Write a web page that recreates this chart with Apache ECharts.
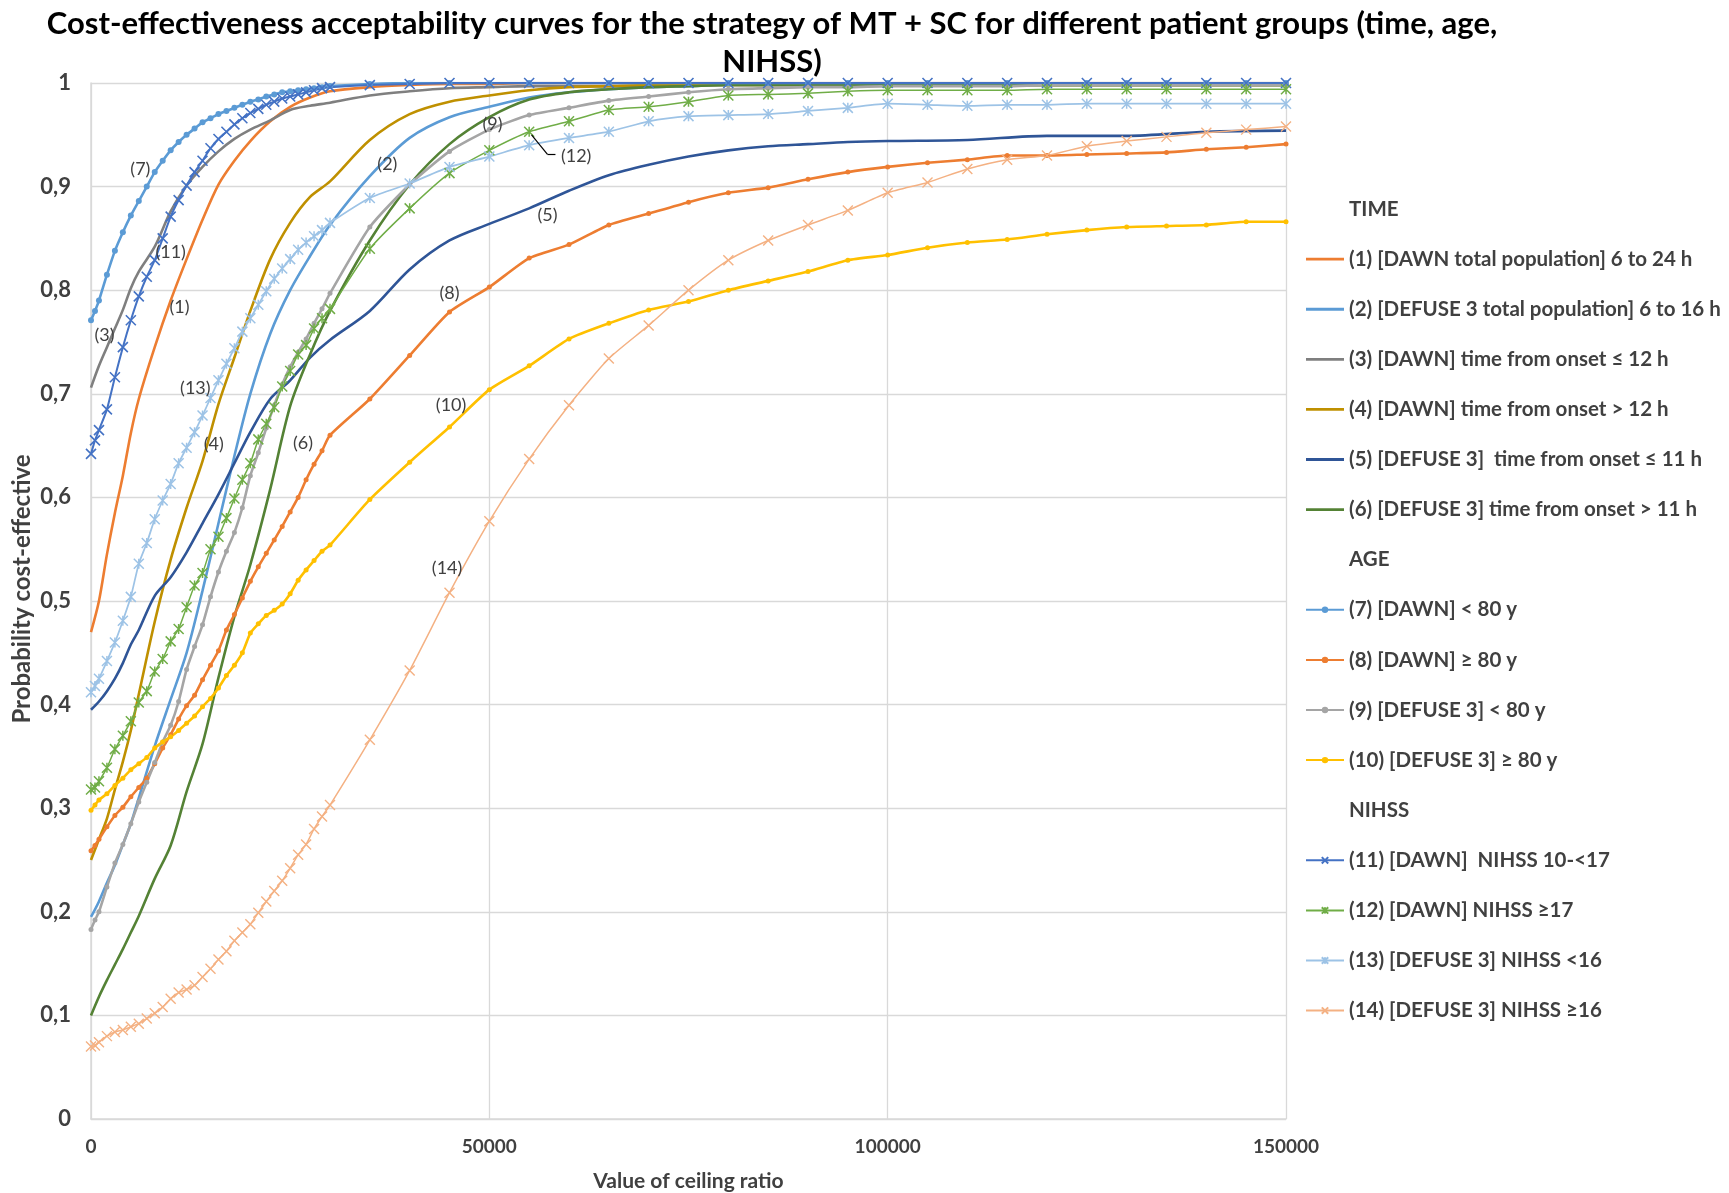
<!DOCTYPE html>
<html>
<head>
<meta charset="utf-8">
<title>CEAC MT + SC</title>
<script src="https://cdn.jsdelivr.net/npm/echarts/dist/echarts.min.js"></script>
<style>
  html, body { margin: 0; padding: 0; background: #fff; }
  #chart { width: 1729px; height: 1193px; }
</style>
</head>
<body>
<div id="chart"></div>
<script>
// sampling grids (ceiling ratio)
const xMark = [0, 500, 1000, 2000, 3000, 4000, 5000, 6000, 7000, 8000, 9000, 10000, 11000, 12000, 13000, 14000, 15000,
  16000, 17000, 18000, 19000, 20000, 21000, 22000, 23000, 24000, 25000, 26000, 27000, 28000, 29000, 30000,
  35000, 40000, 45000, 50000, 55000, 60000, 65000, 70000, 75000, 80000, 85000, 90000, 95000, 100000,
  105000, 110000, 115000, 120000, 125000, 130000, 135000, 140000, 145000, 150000]
const xLine = [0, 1000, 2000, 3000, 4000, 5000, 6000, 8000, 10000, 12000, 14000, 16000, 18000, 20000, 22500, 25000, 27500, 30000,
  35000, 40000, 45000, 50000, 55000, 60000, 65000, 70000, 75000, 80000, 85000, 90000, 95000, 100000, 110000, 120000, 130000, 140000, 150000]

// TIME (plain lines, on xLine)
const s1 = [0.47, 0.5, 0.545, 0.585, 0.621, 0.662, 0.695, 0.745, 0.79, 0.83, 0.868, 0.902, 0.925, 0.944, 0.963, 0.977, 0.986, 0.992,
  0.996, 0.998, 0.999, 0.999, 1, 1, 1, 1, 1, 1, 1, 1, 1, 1, 1, 1, 1, 1, 1]
const s2 = [0.195, 0.21, 0.228, 0.245, 0.265, 0.285, 0.31, 0.36, 0.405, 0.45, 0.51, 0.575, 0.64, 0.7, 0.758, 0.8, 0.833, 0.863,
  0.91, 0.947, 0.967, 0.977, 0.986, 0.991, 0.994, 0.996, 0.997, 0.998, 0.998, 0.998, 0.998, 0.998, 0.998, 0.998, 0.998, 0.998, 0.998]
const s3 = [0.706, 0.727, 0.745, 0.763, 0.781, 0.802, 0.818, 0.842, 0.876, 0.901, 0.919, 0.934, 0.946, 0.955, 0.964, 0.974, 0.978, 0.981,
  0.988, 0.992, 0.995, 0.996, 0.997, 0.997, 0.997, 0.997, 0.998, 0.998, 0.998, 0.998, 0.998, 0.998, 0.998, 0.998, 0.998, 0.998, 0.998]
const s4 = [0.25, 0.27, 0.29, 0.318, 0.345, 0.375, 0.41, 0.48, 0.54, 0.59, 0.635, 0.69, 0.735, 0.78, 0.83, 0.865, 0.89, 0.905,
  0.945, 0.97, 0.982, 0.988, 0.993, 0.996, 0.997, 0.998, 0.998, 0.998, 0.998, 0.998, 0.998, 0.998, 0.998, 0.998, 0.998, 0.998, 0.998]
const s5 = [0.395, 0.403, 0.413, 0.425, 0.44, 0.458, 0.472, 0.505, 0.523, 0.547, 0.575, 0.603, 0.633, 0.663, 0.695, 0.713, 0.735, 0.752,
  0.78, 0.82, 0.848, 0.864, 0.879, 0.896, 0.911, 0.921, 0.929, 0.935, 0.939, 0.941, 0.943, 0.944, 0.945, 0.949, 0.949, 0.953, 0.954]
const s6 = [0.1, 0.118, 0.134, 0.149, 0.164, 0.18, 0.196, 0.232, 0.264, 0.316, 0.362, 0.426, 0.485, 0.535, 0.608, 0.688, 0.738, 0.78,
  0.848, 0.902, 0.941, 0.967, 0.984, 0.991, 0.994, 0.996, 0.997, 0.998, 0.998, 0.998, 0.998, 0.998, 0.998, 0.998, 0.998, 0.998, 0.998]

// AGE (dot markers, on xMark)
const s7 = [0.771, 0.78, 0.79, 0.815, 0.838, 0.856, 0.872, 0.886, 0.9, 0.914, 0.925, 0.935, 0.943, 0.95, 0.956, 0.962, 0.966,
  0.97, 0.973, 0.976, 0.979, 0.982, 0.984, 0.987, 0.989, 0.991, 0.992, 0.993, 0.994, 0.995, 0.996, 0.997,
  0.999, 1, 1, 1, 1, 1, 1, 1, 1, 1, 1, 1, 1, 1, 1, 1, 1, 1, 1, 1, 1, 1, 1, 1]
const s8 = [0.259, 0.264, 0.27, 0.282, 0.293, 0.301, 0.311, 0.32, 0.329, 0.343, 0.358, 0.371, 0.386, 0.399, 0.409, 0.424, 0.438,
  0.452, 0.472, 0.487, 0.503, 0.519, 0.533, 0.546, 0.559, 0.572, 0.586, 0.6, 0.617, 0.632, 0.645, 0.66,
  0.695, 0.737, 0.779, 0.803, 0.831, 0.844, 0.863, 0.874, 0.885, 0.894, 0.899, 0.907, 0.914, 0.919,
  0.923, 0.926, 0.93, 0.93, 0.931, 0.932, 0.933, 0.936, 0.938, 0.941]
const s9 = [0.183, 0.192, 0.2, 0.224, 0.247, 0.265, 0.285, 0.306, 0.325, 0.344, 0.364, 0.38, 0.403, 0.434, 0.456, 0.477, 0.504,
  0.528, 0.548, 0.566, 0.59, 0.621, 0.643, 0.667, 0.689, 0.709, 0.726, 0.74, 0.753, 0.768, 0.782, 0.797,
  0.861, 0.902, 0.934, 0.955, 0.969, 0.976, 0.983, 0.987, 0.991, 0.994, 0.995, 0.996, 0.996, 0.997,
  0.997, 0.997, 0.997, 0.998, 0.998, 0.998, 0.998, 0.998, 0.998, 0.998]
const s10 = [0.298, 0.303, 0.308, 0.314, 0.322, 0.329, 0.337, 0.343, 0.349, 0.358, 0.364, 0.369, 0.375, 0.382, 0.389, 0.398, 0.406,
  0.416, 0.428, 0.438, 0.45, 0.469, 0.478, 0.486, 0.491, 0.497, 0.507, 0.52, 0.53, 0.539, 0.548, 0.554,
  0.598, 0.634, 0.668, 0.704, 0.727, 0.753, 0.768, 0.781, 0.789, 0.8, 0.809, 0.818, 0.829, 0.834,
  0.841, 0.846, 0.849, 0.854, 0.858, 0.861, 0.862, 0.863, 0.866, 0.866]

// NIHSS (cross / asterisk markers, on xMark)
const s11 = [0.642, 0.655, 0.665, 0.685, 0.716, 0.745, 0.771, 0.794, 0.813, 0.829, 0.85, 0.871, 0.887, 0.901, 0.914, 0.925, 0.937,
  0.946, 0.953, 0.96, 0.966, 0.971, 0.975, 0.979, 0.982, 0.985, 0.987, 0.989, 0.991, 0.993, 0.995, 0.996,
  0.998, 0.999, 1, 1, 1, 1, 1, 1, 1, 1, 1, 1, 1, 1, 1, 1, 1, 1, 1, 1, 1, 1, 1, 1]
const s12 = [0.318, 0.32, 0.326, 0.339, 0.357, 0.37, 0.384, 0.402, 0.413, 0.432, 0.444, 0.461, 0.473, 0.494, 0.515, 0.527, 0.55,
  0.562, 0.58, 0.599, 0.617, 0.633, 0.656, 0.671, 0.687, 0.707, 0.722, 0.738, 0.747, 0.763, 0.773, 0.782,
  0.84, 0.879, 0.913, 0.935, 0.953, 0.963, 0.974, 0.977, 0.982, 0.988, 0.989, 0.99, 0.992, 0.993,
  0.993, 0.993, 0.993, 0.994, 0.994, 0.994, 0.994, 0.994, 0.994, 0.994]
const s13 = [0.412, 0.418, 0.425, 0.442, 0.46, 0.481, 0.504, 0.536, 0.556, 0.579, 0.597, 0.613, 0.633, 0.648, 0.663, 0.679, 0.696,
  0.713, 0.729, 0.744, 0.76, 0.773, 0.786, 0.799, 0.811, 0.821, 0.83, 0.839, 0.846, 0.852, 0.858, 0.865,
  0.889, 0.903, 0.919, 0.929, 0.94, 0.947, 0.953, 0.963, 0.968, 0.969, 0.97, 0.973, 0.976, 0.98,
  0.979, 0.978, 0.979, 0.979, 0.98, 0.98, 0.98, 0.98, 0.98, 0.98]
const s14 = [0.07, 0.071, 0.074, 0.08, 0.084, 0.086, 0.089, 0.092, 0.097, 0.102, 0.108, 0.116, 0.122, 0.125, 0.129, 0.137, 0.145,
  0.154, 0.162, 0.172, 0.18, 0.188, 0.199, 0.21, 0.22, 0.23, 0.242, 0.255, 0.265, 0.28, 0.292, 0.303,
  0.366, 0.433, 0.508, 0.577, 0.637, 0.689, 0.734, 0.766, 0.8, 0.829, 0.848, 0.863, 0.877, 0.894,
  0.904, 0.917, 0.926, 0.93, 0.939, 0.944, 0.948, 0.952, 0.955, 0.958]

const names = [
  '(1) [DAWN total population] 6 to 24 h',
  '(2) [DEFUSE 3 total population] 6 to 16 h',
  '(3) [DAWN] time from onset \u2264 12 h',
  '(4) [DAWN] time from onset > 12 h',
  '(5) [DEFUSE 3]  time from onset \u2264 11 h',
  '(6) [DEFUSE 3] time from onset > 11 h',
  '(7) [DAWN] < 80 y',
  '(8) [DAWN] \u2265 80 y',
  '(9) [DEFUSE 3] < 80 y',
  '(10) [DEFUSE 3] \u2265 80 y',
  '(11) [DAWN]  NIHSS 10-<17',
  '(12) [DAWN] NIHSS \u226517',
  '(13) [DEFUSE 3] NIHSS <16',
  '(14) [DEFUSE 3] NIHSS \u226516'
]

// in-plot tags "(n)" placed in data space
const tagSpots = {
  1: [11100, 0.784], 2: [37200, 0.922], 3: [1700, 0.757], 4: [15400, 0.651], 5: [57300, 0.872],
  6: [26600, 0.652], 7: [6200, 0.917], 8: [45000, 0.797], 9: [50400, 0.96], 10: [45200, 0.689],
  11: [10000, 0.837], 12: [60900, 0.929], 13: [13100, 0.705], 14: [44700, 0.532]
}

const FONT = 'Lato'
const TEXT = '#404040'
const GRID_C = '#D9D9D9'
const CROSS = 'path://M0,0L10,10M10,0L0,10'
const STAR = 'path://M0,0L10,10M10,0L0,10M5,0L5,10'
const PLAIN_ICON = 'path://M0,0H40V3H0Z'

function tag(n) {
  return {
    symbol: 'circle',
    symbolSize: 1,
    silent: true,
    itemStyle: { color: 'rgba(0,0,0,0)' },
    label: {
      show: true, position: 'inside', formatter: '(' + n + ')',
      color: TEXT, fontSize: 18, fontFamily: FONT
    },
    data: [{ coord: tagSpots[n] }]
  }
}

function plain(n, ys, color) {
  return {
    name: names[n - 1],
    type: 'line',
    data: xLine.map((x, i) => [x, ys[i]]),
    smooth: 0.3,
    symbol: 'none',
    lineStyle: { color, width: 2.6 },
    itemStyle: { color },
    markPoint: tag(n)
  }
}

function marked(n, ys, color, width, symbol, size, stroke) {
  return {
    name: names[n - 1],
    type: 'line',
    data: xMark.map((x, i) => [x, ys[i]]),
    smooth: 0.2,
    symbol,
    symbolSize: size,
    showSymbol: true,
    showAllSymbol: true,
    lineStyle: { color, width },
    itemStyle: stroke
      ? { color, borderColor: color, borderWidth: stroke }
      : { color, borderWidth: 0 },
    markPoint: tag(n)
  }
}

function header(name) {
  return { name, type: 'line', data: [] }
}

const series = [
  header('TIME'),
  plain(1, s1, '#ED7D31'),
  plain(2, s2, '#5B9BD5'),
  plain(3, s3, '#7F7F7F'),
  plain(4, s4, '#BF9000'),
  plain(5, s5, '#2F5597'),
  plain(6, s6, '#548235'),
  header('AGE'),
  marked(7, s7, '#5B9BD5', 2.6, 'circle', 6, 0),
  marked(8, s8, '#ED7D31', 2.6, 'circle', 5, 0),
  marked(9, s9, '#A5A5A5', 2.6, 'circle', 5, 0),
  marked(10, s10, '#FFC000', 2.6, 'circle', 5, 0),
  header('NIHSS'),
  marked(11, s11, '#4472C4', 2, CROSS, 10, 1.6),
  marked(12, s12, '#70AD47', 1.5, STAR, 10, 1.5),
  marked(13, s13, '#9DC3E6', 1.75, STAR, 10, 1.5),
  marked(14, s14, '#F4B183', 1.5, CROSS, 10, 1.4)
]

// leader from the (12) tag to its curve
series[14].markLine = {
  silent: true,
  symbol: ['none', 'none'],
  label: { show: false },
  lineStyle: { color: '#000', width: 1.2, type: 'solid' },
  data: [
    [{ coord: [55300, 0.95] }, { coord: [57300, 0.931] }],
    [{ coord: [57300, 0.931] }, { coord: [58300, 0.931] }]
  ]
}

const legendData = series.map(s => {
  if (s.data.length === 0) return { name: s.name, icon: 'none' }
  if (s.symbol === 'none') return { name: s.name, icon: PLAIN_ICON }
  return { name: s.name }
})

const chart = echarts.init(document.getElementById('chart'), null, { renderer: 'canvas' })
chart.setOption({
  animation: false,
  backgroundColor: '#fff',
  title: {
    text: 'Cost-effectiveness acceptability curves for the strategy of MT + SC for different patient groups (time, age,\nNIHSS)',
    left: 772,
    top: 5,
    padding: 0,
    textAlign: 'center',
    textStyle: { fontFamily: FONT, fontSize: 31, fontWeight: 'bold', color: '#000', lineHeight: 38 }
  },
  legend: {
    orient: 'vertical',
    left: 1305,
    top: 198,
    padding: 0,
    itemWidth: 38,
    itemHeight: 8,
    itemGap: 28.1,
    selectedMode: false,
    data: legendData,
    textStyle: { fontFamily: FONT, fontSize: 20.5, fontWeight: 'bold', color: TEXT, lineHeight: 22 }
  },
  grid: { left: 91, right: 443, top: 83, bottom: 74, containLabel: false, outerBoundsMode: 'none' },
  xAxis: {
    type: 'value',
    min: 0, max: 150000, interval: 50000,
    name: 'Value of ceiling ratio',
    nameLocation: 'middle',
    nameGap: 52,
    nameMoveOverlap: false,
    nameTextStyle: { fontFamily: FONT, fontSize: 21, fontWeight: 'bold', color: TEXT },
    axisLine: { show: true, lineStyle: { color: GRID_C, width: 1.5 } },
    axisTick: { show: false },
    axisLabel: {
      margin: 18, fontFamily: FONT, fontSize: 19, fontWeight: 'bold', color: TEXT,
      formatter: v => String(v)
    },
    splitLine: { show: true, lineStyle: { color: GRID_C, width: 1.3 } }
  },
  yAxis: {
    type: 'value',
    min: 0, max: 1, interval: 0.1,
    name: 'Probability cost-effective',
    nameLocation: 'middle',
    nameGap: 57,
    nameMoveOverlap: false,
    nameTextStyle: { fontFamily: FONT, fontSize: 24, fontWeight: 'bold', color: TEXT, padding: [0, 0, 0, 24] },
    axisLine: { show: true, lineStyle: { color: GRID_C, width: 1.5 } },
    axisTick: { show: false },
    axisLabel: {
      margin: 20, fontFamily: FONT, fontSize: 22, fontWeight: 'bold', color: TEXT,
      formatter: v => String(Math.round(v * 10) / 10).replace('.', ',')
    },
    splitLine: { show: true, lineStyle: { color: GRID_C, width: 1.3 } }
  },
  series
})
</script>
</body>
</html>
